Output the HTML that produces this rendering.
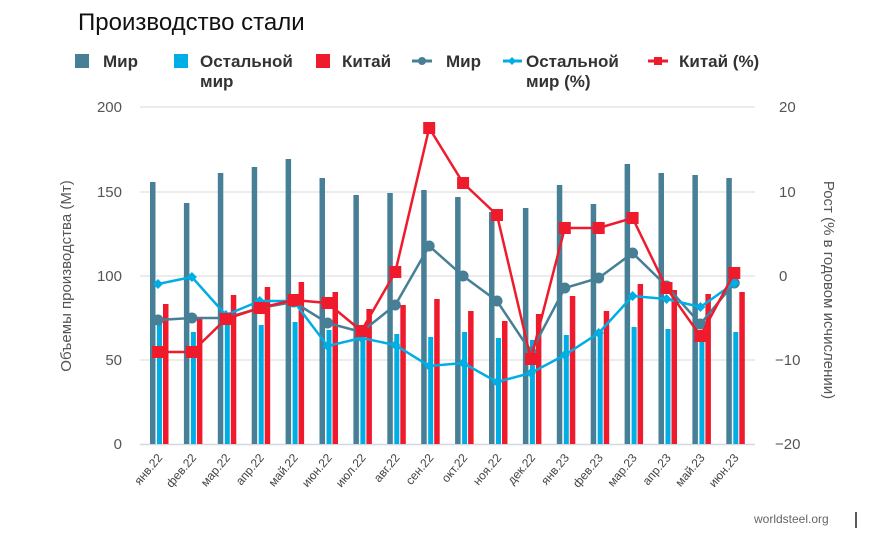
<!DOCTYPE html>
<html><head><meta charset="utf-8"><style>
body{margin:0;background:#fff;width:885px;height:534px;overflow:hidden;font-family:"Liberation Sans",sans-serif}
</style></head><body>
<svg id="s" width="885" height="534" xmlns="http://www.w3.org/2000/svg" font-family="Liberation Sans, sans-serif">
<text x="78" y="30" font-size="24" fill="#111">Производство стали</text>
<g font-size="17" font-weight="bold" fill="#333">
<rect x="75" y="54" width="14" height="14" fill="#467f96"/><text x="103" y="67">Мир</text>
<rect x="174" y="54" width="14" height="14" fill="#00aee6"/><text x="200" y="67">Остальной</text><text x="200" y="87">мир</text>
<rect x="316" y="54" width="14" height="14" fill="#ef1b2d"/><text x="342" y="67">Китай</text>
<line x1="412" y1="61" x2="432" y2="61" stroke="#467f96" stroke-width="3"/><circle cx="422" cy="61" r="4" fill="#467f96"/><text x="446" y="67">Мир</text>
<line x1="503" y1="61" x2="522" y2="61" stroke="#00aee6" stroke-width="3"/><path d="M512 57l4 4-4 4-4-4z" fill="#00aee6"/><text x="526" y="67">Остальной</text><text x="526" y="87">мир (%)</text>
<line x1="648" y1="61" x2="668" y2="61" stroke="#ef1b2d" stroke-width="3"/><rect x="654" y="57" width="8" height="8" fill="#ef1b2d"/><text x="679" y="67">Китай (%)</text>
</g>
<g stroke="#e6e6e6" stroke-width="1.5">
<line x1="140" y1="107" x2="755" y2="107"/><line x1="140" y1="192" x2="755" y2="192"/><line x1="140" y1="276" x2="755" y2="276"/><line x1="140" y1="360" x2="755" y2="360"/>
</g>
<line x1="140" y1="444.5" x2="755" y2="444.5" stroke="#d0d8e4" stroke-width="1.5"/>
<g font-size="15" fill="#555" text-anchor="end">
<text x="122" y="112">200</text><text x="122" y="197">150</text><text x="122" y="281">100</text><text x="122" y="365">50</text><text x="122" y="449">0</text>
</g>
<g font-size="15" fill="#555" text-anchor="start">
<text x="779" y="112">20</text><text x="779" y="197">10</text><text x="779" y="281">0</text><text x="775" y="365">−10</text><text x="775" y="449">−20</text>
</g>
<text transform="translate(71,276) rotate(-90)" font-size="15" fill="#555" text-anchor="middle">Объемы производства (Мт)</text>
<text transform="translate(824,290) rotate(90)" font-size="15" fill="#555" text-anchor="middle">Рост (% в годовом исчислении)</text>
<g id="g"></g>
<text x="754" y="523" font-size="12" fill="#666">worldsteel.org</text>
<line x1="856" y1="512" x2="856" y2="528" stroke="#222" stroke-width="1.5"/>
</svg>
<script>
var g=document.getElementById('g'),h='';
var lab=['янв.22','фев.22','мар.22','апр.22','май.22','июн.22','июл.22','авг.22','сен.22','окт.22','ноя.22','дек.22','янв.23','фев.23','мар.23','апр.23','май.23','июн.23'];
var d=[182,203,173,167,159,178,195,193,190,197,212,208,185,204,164,173,175,178];
var b=[323,332,316,325,322,330,335,334,337,332,338,340,335,330,327,329,333,332];
var r=[304,319,295,287,282,292,309,305,299,311,321,314,296,311,284,290,294,292];
var m=[320,318,318,308,302,323,332,305,246,276,301,352,288,278,253,286,324,283];
var o=[284,277,315,301,301,346,338,345,366,363,382,373,355,333,296,299,307,283];
var c=[352,352,319,308,300,303,331,272,128,183,215,359,228,228,218,288,336,273];
var X=[];
for(var i=0;i<18;i++){var x=157+33.9*i;X.push(x+1);
h+='<rect x="'+(x-7)+'" y="'+d[i]+'" width="5.5" height="'+(444-d[i])+'" fill="#467f96"/>';
h+='<rect x="'+(x)+'" y="'+b[i]+'" width="5" height="'+(444-b[i])+'" fill="#00aee6"/>';
h+='<rect x="'+(x+6)+'" y="'+r[i]+'" width="5.5" height="'+(444-r[i])+'" fill="#ef1b2d"/>';
h+='<text transform="translate('+(x+6)+',458) rotate(-50)" font-size="12" fill="#444" text-anchor="end">'+lab[i]+'</text>';}
function pl(a,col){var p=a.map(function(y,i){return X[i]+','+y}).join(' ');return '<polyline points="'+p+'" fill="none" stroke="'+col+'" stroke-width="2.5"/>';}
h+=pl(m,'#467f96');m.forEach(function(y,i){h+='<circle cx="'+X[i]+'" cy="'+y+'" r="5.5" fill="#467f96"/>'});
h+=pl(o,'#00aee6');o.forEach(function(y,i){h+='<path d="M'+X[i]+' '+(y-5)+'l5 5-5 5-5-5z" fill="#00aee6"/>'});
h+=pl(c,'#ef1b2d');c.forEach(function(y,i){h+='<rect x="'+(X[i]-6)+'" y="'+(y-6)+'" width="12" height="12" fill="#ef1b2d"/>'});
g.innerHTML=h;
</script>
</body></html>
